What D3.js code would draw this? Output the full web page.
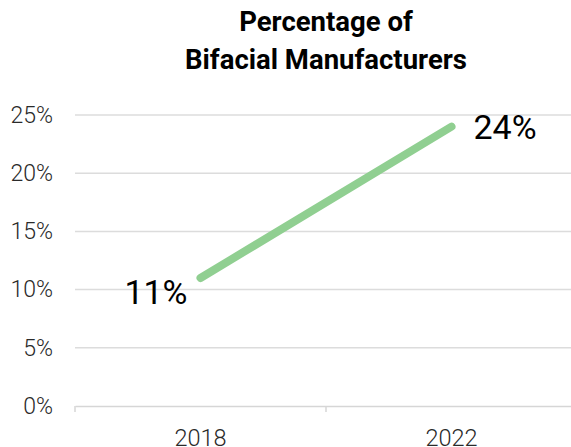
<!DOCTYPE html>
<html>
<head>
<meta charset="utf-8">
<script src="https://cdn.jsdelivr.net/npm/d3@7"></script>
<style>
  html, body { margin: 0; padding: 0; background: #fff; }
  svg { display: block; font-family: Roboto, sans-serif; }
</style>
</head>
<body>
<div id="chart"></div>
<script>
// Données
const years = ['2018', '2022'];
const shares = [11, 24];
const yTicks = [0, 5, 10, 15, 20, 25];
const titleLines = ['Percentage of', 'Bifacial Manufacturers'];

const width = 571;
const height = 447;
const margin = { top: 115, right: -6, bottom: 41, left: 75 };

const svg = d3.select('#chart')
    .append('svg')
    .attr('width', width)
    .attr('height', height);

const x = d3.scaleBand()
    .domain(years)
    .range([margin.left, width - margin.right]);

const y = d3.scaleLinear()
    .domain([0, 25])
    .range([height - margin.bottom, margin.top]);

// Grille horizontale
svg.append('g')
    .selectAll('line')
    .data(yTicks.filter(d => d > 0))
    .enter()
    .append('line')
    .attr('x1', margin.left)
    .attr('x2', width)
    .attr('y1', d => y(d))
    .attr('y2', d => y(d))
    .attr('stroke', '#dcdcdc')
    .attr('stroke-width', 1.5);

// Axe X
const xAxis = svg.append('g')
    .attr('transform', `translate(0,${y(0)})`)
    .call(d3.axisBottom(x).tickSize(0).tickPadding(23));
xAxis.select('.domain').attr('stroke', '#d6d6d6').attr('stroke-width', 1.5);
xAxis.selectAll('text')
    .style('font-size', '23.5px')
    .style('font-family', 'Roboto')
    .style('font-weight', 300)
    .attr('fill', '#2a2a2a');

// Petits traits de séparation sur l'axe X
const sepX = [margin.left, x('2022')];
svg.append('g')
    .selectAll('line')
    .data(sepX)
    .enter()
    .append('line')
    .attr('x1', d => d)
    .attr('x2', d => d)
    .attr('y1', y(0))
    .attr('y2', y(0) + 6)
    .attr('stroke', '#d6d6d6')
    .attr('stroke-width', 1.5);

// Axe Y (libellés seulement)
const yAxis = svg.append('g')
    .attr('transform', `translate(${margin.left - 22},0)`)
    .call(d3.axisLeft(y).tickValues(yTicks).tickSize(0).tickPadding(0).tickFormat(d => d + '%'));
yAxis.select('.domain').remove();
yAxis.selectAll('text')
    .style('font-size', '23px')
    .style('font-family', 'Roboto')
    .style('font-weight', 300)
    .attr('fill', '#2a2a2a');

// Ligne
const line = d3.line()
    .x((d, i) => x(years[i]) + x.bandwidth() / 2)
    .y(d => y(d));

svg.append('path')
    .datum(shares)
    .attr('d', line)
    .attr('fill', 'none')
    .attr('stroke', '#90cf91')
    .attr('stroke-width', 8)
    .attr('stroke-linecap', 'round');

// Étiquettes de valeurs
svg.append('text')
    .attr('x', x(years[0]) + x.bandwidth() / 2 - 13)
    .attr('y', y(shares[0]) + 26)
    .attr('text-anchor', 'end')
    .style('font-size', '34px')
    .style('font-family', 'Roboto')
    .attr('fill', '#000')
    .text(shares[0] + '%');

svg.append('text')
    .attr('x', x(years[1]) + x.bandwidth() / 2 + 22)
    .attr('y', y(shares[1]) + 12)
    .attr('text-anchor', 'start')
    .style('font-size', '34px')
    .style('font-family', 'Roboto')
    .attr('fill', '#000')
    .text(shares[1] + '%');

// Titre
svg.append('text')
    .attr('text-anchor', 'middle')
    .style('font-size', '27.5px')
    .style('font-family', 'Roboto')
    .style('font-weight', 'bold')
    .attr('fill', '#000')
    .selectAll('tspan')
    .data(titleLines)
    .enter()
    .append('tspan')
    .attr('x', 326)
    .attr('y', (d, i) => 31 + i * 38)
    .text(d => d);
</script>
</body>
</html>
